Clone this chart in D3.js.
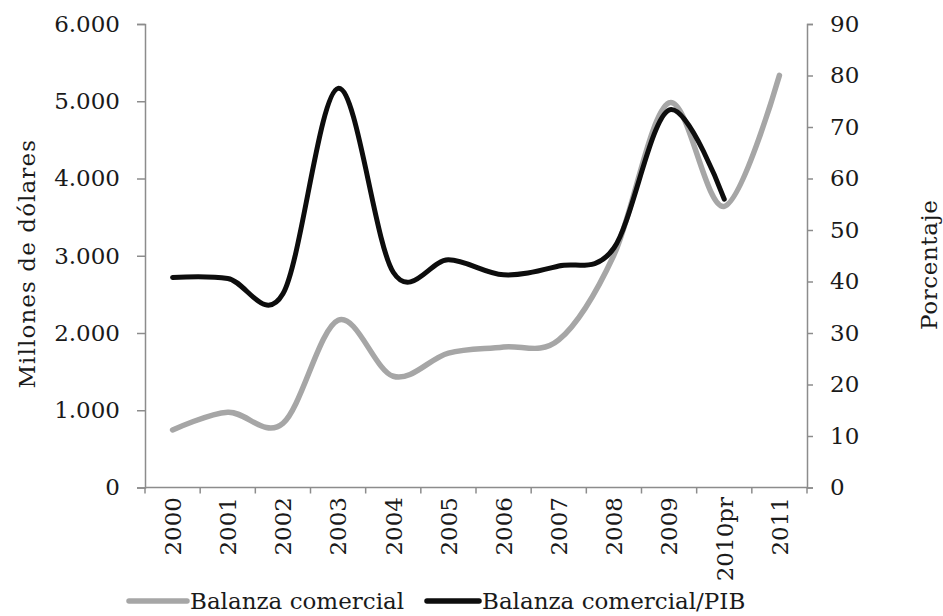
<!DOCTYPE html>
<html>
<head>
<meta charset="utf-8">
<script src="https://cdn.jsdelivr.net/npm/d3@7"></script>
<style>
  html, body { margin: 0; padding: 0; background: #fff; }
  svg text { font-family: "DejaVu Serif", serif; fill: #1a1a1a; }
</style>
</head>
<body>
<svg id="chart" width="943" height="616"></svg>
<script>
// Years on the category axis
const categories = ["2000", "2001", "2002", "2003", "2004", "2005", "2006", "2007", "2008", "2009", "2010pr", "2011"];
// Balanza comercial, millones de dólares (left axis)
const balanza = [745, 975, 830, 2165, 1440, 1740, 1820, 1910, 3010, 4980, 3640, 5335];
// Balanza comercial / PIB, porcentaje (right axis); no value for 2011
const balanzaPib = [40.8, 40.6, 37.6, 77.5, 41.8, 44.2, 41.3, 43.0, 46.5, 73.3, 56.0];
// Axis tick values
const leftTicks = [0, 1000, 2000, 3000, 4000, 5000, 6000];
const rightTicks = [0, 10, 20, 30, 40, 50, 60, 70, 80, 90];

const svg = d3.select("#chart");
const plotLeft = 145, plotRight = 807, plotTop = 24, plotBottom = 487.5;
const axisColor = "#8c8c8c";
const fontSize = 23;

const x = d3.scaleBand().domain(categories).range([plotLeft, plotRight]);
const yL = d3.scaleLinear().domain([0, 6000]).range([plotBottom, plotTop]);
const yR = d3.scaleLinear().domain([0, 90]).range([plotBottom, plotTop]);

const fmt = v => v === 0 ? "0" : d3.format(",")(v).replace(/,/g, ".");

// Left axis
const gL = svg.append("g").attr("transform", `translate(${plotLeft},0)`)
  .call(d3.axisLeft(yL).tickValues(leftTicks).tickSize(8).tickPadding(17).tickFormat(fmt));
// Right axis
const gR = svg.append("g").attr("transform", `translate(${plotRight},0)`)
  .call(d3.axisRight(yR).tickValues(rightTicks).tickSize(6).tickPadding(17).tickFormat(d3.format("d")));

[gL, gR].forEach(g => {
  g.select(".domain").attr("stroke", axisColor).attr("stroke-width", 1.5);
  g.selectAll(".tick line").attr("stroke", axisColor).attr("stroke-width", 1.5);
  g.selectAll(".tick text").attr("font-size", fontSize).attr("font-family", "DejaVu Serif")
    .attr("fill", "#1a1a1a");
});

// Category axis: baseline, boundary ticks and rotated labels
const gB = svg.append("g");
gB.append("line").attr("x1", plotLeft).attr("x2", plotRight).attr("y1", plotBottom).attr("y2", plotBottom)
  .attr("stroke", axisColor).attr("stroke-width", 1.5);
const bounds = categories.map(c => x(c)).concat([x(categories[categories.length - 1]) + x.step()]);
gB.selectAll("line.tk").data(bounds).join("line").attr("class", "tk")
  .attr("x1", d => d).attr("x2", d => d).attr("y1", plotBottom).attr("y2", plotBottom + 6)
  .attr("stroke", axisColor).attr("stroke-width", 1.5);
gB.selectAll("text").data(categories).join("text")
  .attr("transform", d => `translate(${x(d) + x.bandwidth() / 2},497) rotate(-90)`)
  .attr("text-anchor", "end").attr("dy", "0.36em")
  .attr("font-size", fontSize)
  .text(d => d);

// Axis titles
svg.append("text").attr("transform", `translate(27,${(plotTop + plotBottom) / 2 + 8}) rotate(-90)`)
  .attr("text-anchor", "middle").attr("dy", "0.36em").attr("font-size", fontSize).attr("letter-spacing", 1.1)
  .text("Millones de dólares");
svg.append("text").attr("transform", `translate(929,${(plotTop + plotBottom) / 2 + 9}) rotate(-90)`)
  .attr("text-anchor", "middle").attr("dy", "0.36em").attr("font-size", fontSize).attr("letter-spacing", 0.6)
  .text("Porcentaje");

// Smoothed series lines
const cx = (d, i) => x(categories[i]) + x.bandwidth() / 2;
const lineL = d3.line().x(cx).y(d => yL(d)).curve(d3.curveCardinal.tension(0));
const lineR = d3.line().x(cx).y(d => yR(d)).curve(d3.curveCardinal.tension(0));

svg.append("path").datum(balanza).attr("d", lineL)
  .attr("fill", "none").attr("stroke", "#a6a6a6").attr("stroke-width", 5.5).attr("stroke-linecap", "round");
svg.append("path").datum(balanzaPib).attr("d", lineR)
  .attr("fill", "none").attr("stroke", "#0d0d0d").attr("stroke-width", 5).attr("stroke-linecap", "round");

// Legend
const legend = [
  { name: "Balanza comercial", color: "#a6a6a6", x1: 129, x2: 187 },
  { name: "Balanza comercial/PIB", color: "#0d0d0d", x1: 427, x2: 479 }
];
const lg = svg.append("g");
legend.forEach(l => {
  lg.append("line").attr("x1", l.x1).attr("x2", l.x2).attr("y1", 601).attr("y2", 601)
    .attr("stroke", l.color).attr("stroke-width", 5.5).attr("stroke-linecap", "round");
  lg.append("text").attr("x", l.x2 + 3).attr("y", 601).attr("dy", "0.36em")
    .attr("font-size", fontSize).text(l.name);
});
</script>
</body>
</html>
